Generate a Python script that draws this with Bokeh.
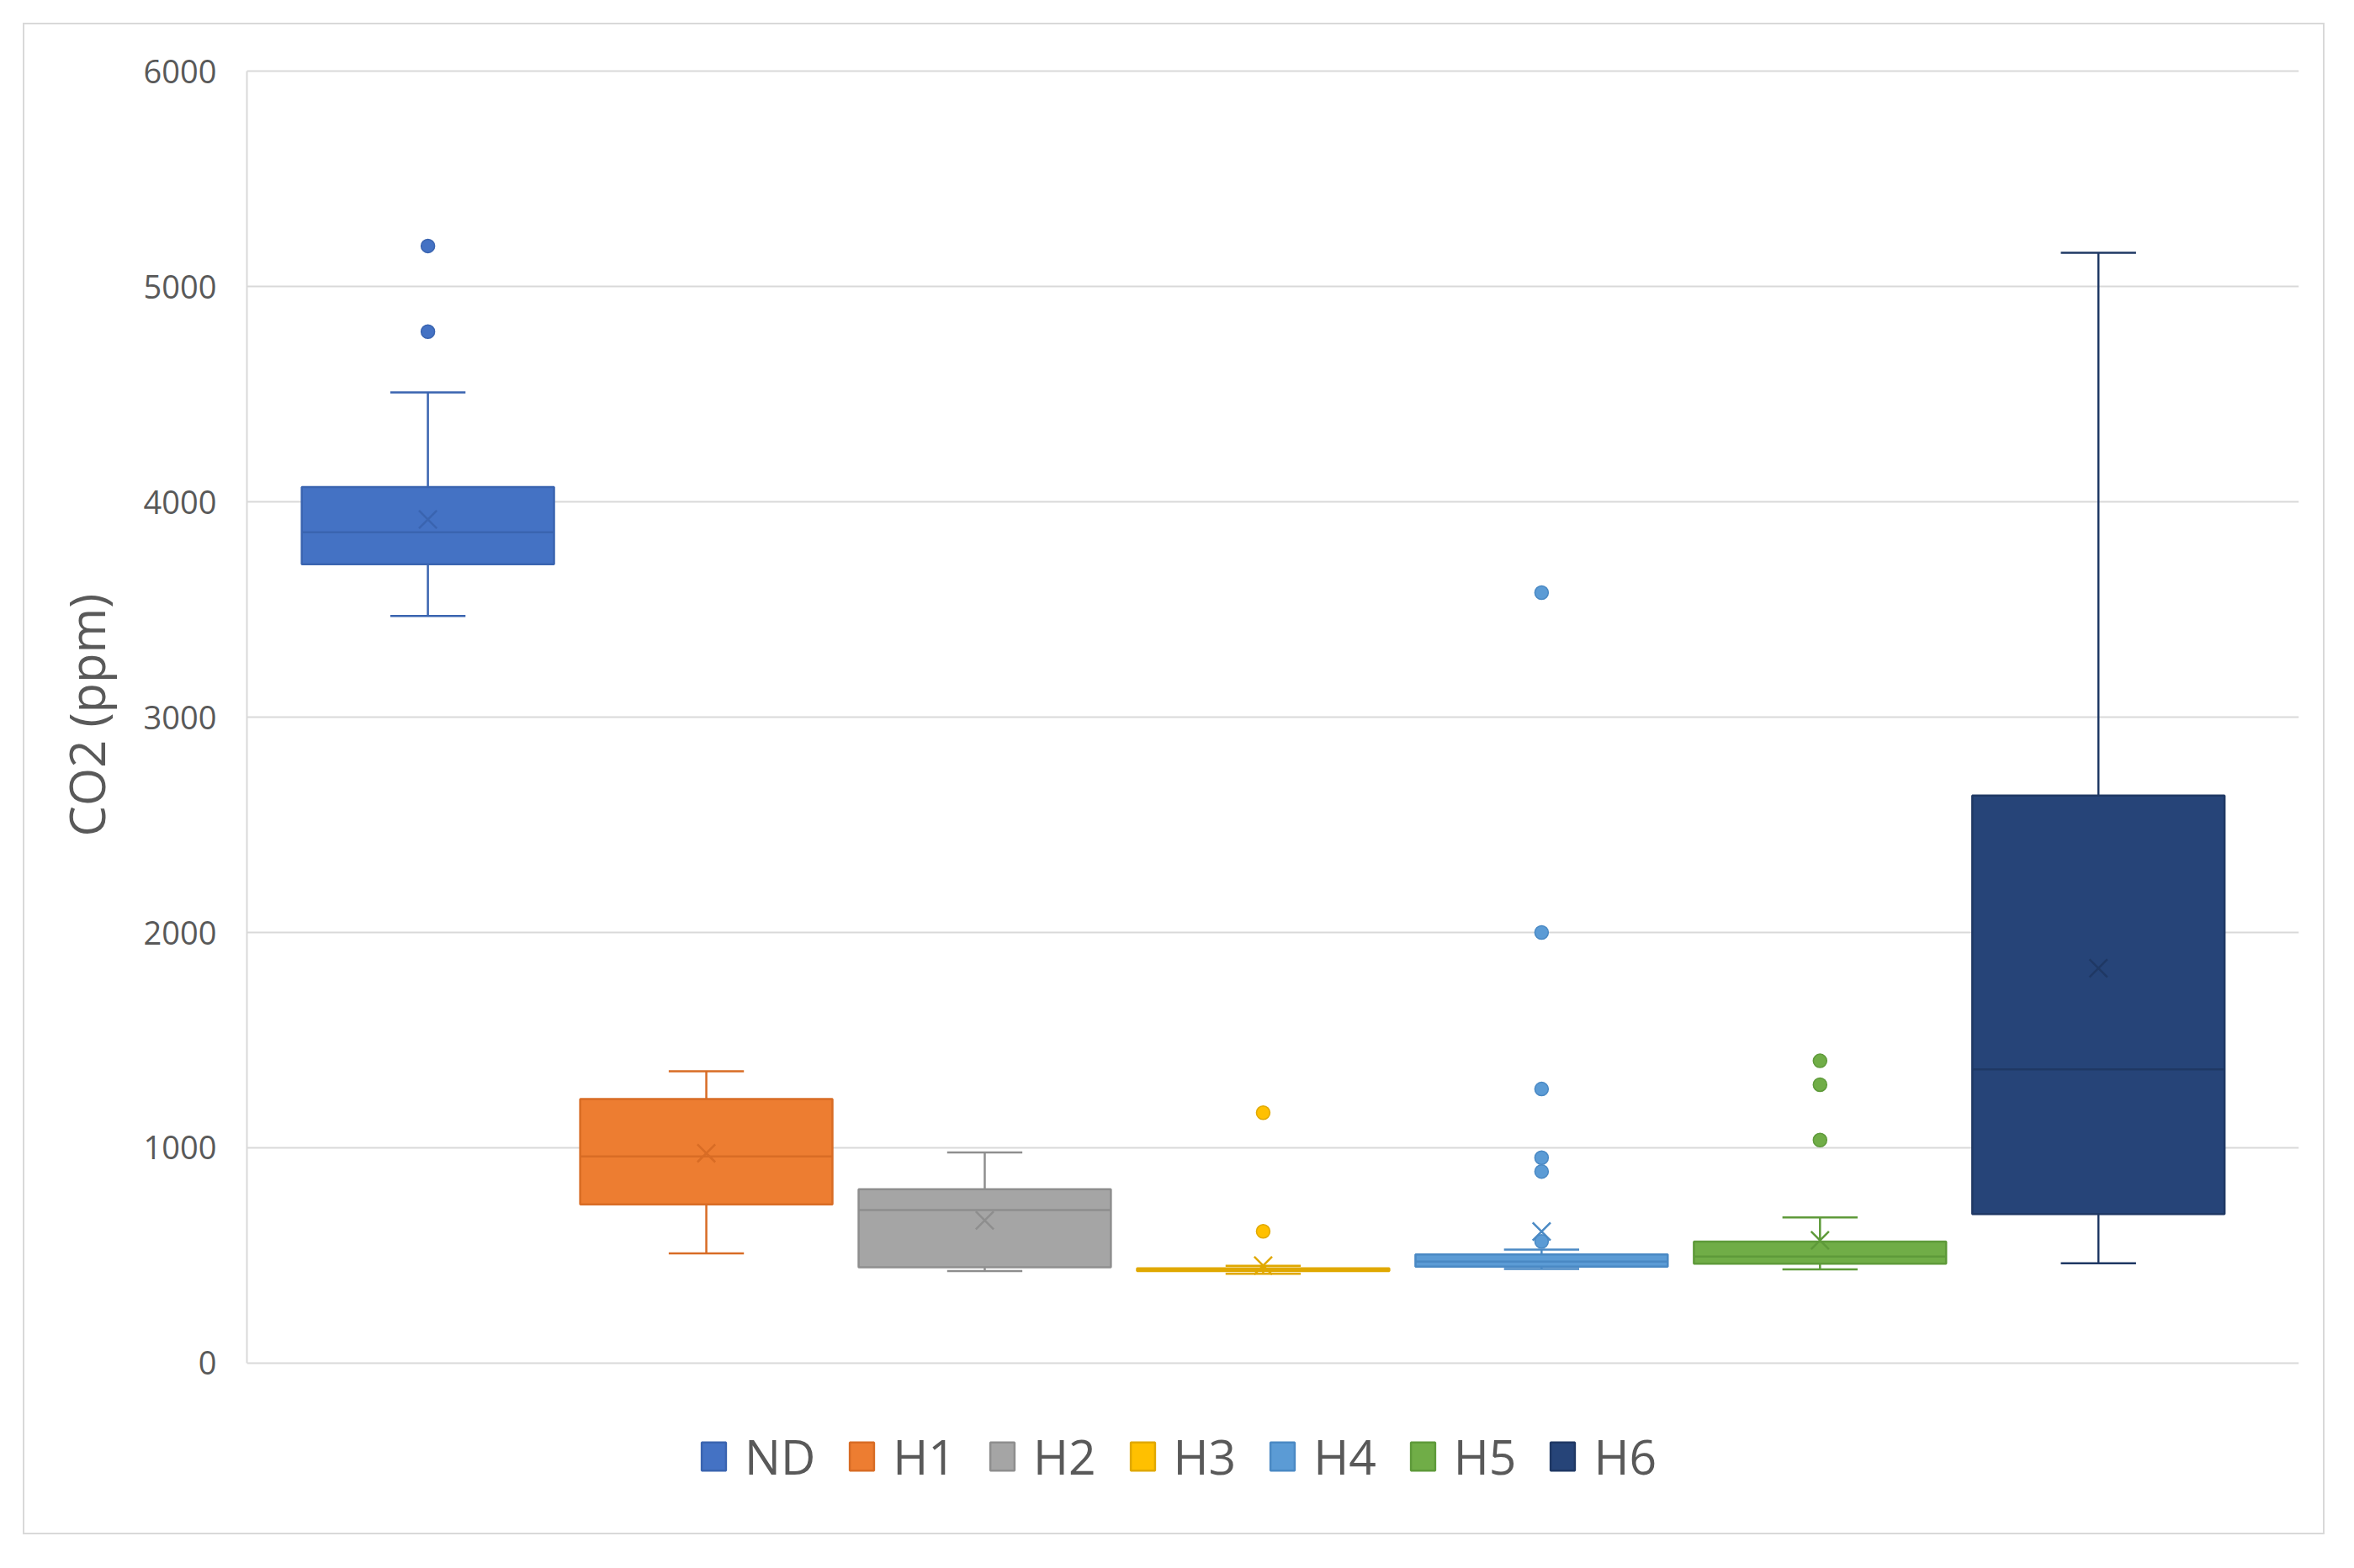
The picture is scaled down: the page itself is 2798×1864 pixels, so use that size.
from bokeh.plotting import figure
from bokeh.models import Range1d, Legend, LegendItem, ColumnDataSource, FixedTicker, Title
from bokeh.embed import file_html
from bokeh.resources import INLINE

# ---- data ----
categories = ["ND", "H1", "H2", "H3", "H4", "H5", "H6"]
lower_whisker = [3470, 510, 428, 415, 437, 435, 464]
q1 = [3710, 737, 445, 428, 448, 462, 692]
median = [3858, 960, 711, 434, 472, 495, 1364]
q3 = [4068, 1227, 808, 440, 505, 564, 2636]
upper_whisker = [4508, 1355, 978, 452, 527, 677, 5156]
mean = [3918, 975, 663, 453, 611, 570, 1834]

outlier_cat = ["ND", "ND", "H3", "H3", "H4", "H4", "H4", "H4", "H4", "H4", "H5", "H5", "H5"]
outlier_val = [5188, 4790, 1163, 612, 3578, 2000, 1273, 954, 890, 565, 1404, 1293, 1036]

fill_colors = ["#4472C4", "#ED7D31", "#A5A5A5", "#FFC000", "#5B9BD5", "#70AD47", "#264478"]
line_colors = ["#3A64B0", "#D86C25", "#8E8E8E", "#E0A800", "#4A89C4", "#5E9A3A", "#1F3864"]

y_ticks = [0, 1000, 2000, 3000, 4000, 5000, 6000]
y_title = "CO2 (ppm)"

# ---- layout constants ----
BOX_W = 0.906
CAP_W = 0.27
FONT = "Open Sans"
TXT = "#595959"
GRID = "#D9D9D9"

xpos = list(range(len(categories)))
idx = {c: i for i, c in enumerate(categories)}

src = ColumnDataSource(dict(
    x=xpos, cat=categories, lw=lower_whisker, q1=q1, med=median, q3=q3, uw=upper_whisker, mean=mean,
    fill=fill_colors, line=line_colors,
    cap_l=[i - CAP_W / 2 for i in xpos], cap_r=[i + CAP_W / 2 for i in xpos],
    box_l=[i - BOX_W / 2 for i in xpos], box_r=[i + BOX_W / 2 for i in xpos],
))
out_src = ColumnDataSource(dict(
    x=[idx[c] for c in outlier_cat], y=outlier_val,
    fill=[fill_colors[idx[c]] for c in outlier_cat],
    line=[line_colors[idx[c]] for c in outlier_cat],
))

# frame extends below zero so the legend can sit inside it (axis/grid limited to 0..6000)
p = figure(width=2736, height=1797, output_backend="svg", toolbar_location=None,
           x_range=Range1d(-0.65, 6.72), y_range=Range1d(-672, 6008),
           min_border_left=264, min_border_right=33, min_border_top=53, min_border_bottom=34)
p.margin = (27, 0, 0, 27)
p.styles = {"border": "2px solid #D9D9D9"}
p.outline_line_color = None
p.background_fill_color = "white"
p.border_fill_color = "white"

p.xaxis.visible = False
p.xgrid.grid_line_color = None

p.yaxis.ticker = FixedTicker(ticks=y_ticks)
p.yaxis.bounds = (0, 6000)
p.ygrid.ticker = FixedTicker(ticks=y_ticks)
p.ygrid.grid_line_color = GRID
p.ygrid.grid_line_width = 2
p.yaxis.axis_line_color = GRID
p.yaxis.axis_line_width = 2
p.yaxis.major_tick_line_color = None
p.yaxis.minor_tick_line_color = None
p.yaxis.major_label_text_font = FONT
p.yaxis.major_label_text_font_size = "38px"
p.yaxis.major_label_text_color = TXT
p.yaxis.major_label_standoff = 30

# y-axis title, centred on the 0..6000 part of the axis
ytitle = Title(text=y_title, align="left", offset=798, standoff=52,
               text_font=FONT, text_font_size="58px", text_font_style="normal", text_color=TXT)
p.add_layout(ytitle, "left")

# whisker stems
p.segment(x0="x", y0="lw", x1="x", y1="q1", source=src, line_color="line", line_width=2.5)
p.segment(x0="x", y0="q3", x1="x", y1="uw", source=src, line_color="line", line_width=2.5)
# caps
p.segment(x0="cap_l", y0="uw", x1="cap_r", y1="uw", source=src, line_color="line", line_width=2.5)
p.segment(x0="cap_l", y0="lw", x1="cap_r", y1="lw", source=src, line_color="line", line_width=2.5)
# boxes
boxes = p.vbar(x="x", width=BOX_W, bottom="q1", top="q3", source=src,
               fill_color="fill", line_color="line", line_width=2.5)
# median
p.segment(x0="box_l", y0="med", x1="box_r", y1="med", source=src, line_color="line", line_width=2.5)
# mean markers
p.scatter(x="x", y="mean", source=src, marker="x", size=30, line_color="line", line_width=2.5)
# outliers
p.scatter(x="x", y="y", source=out_src, marker="circle", size=16, fill_color="fill", line_color="line", line_width=1.5)

legend = Legend(items=[LegendItem(label=c, renderers=[boxes], index=i) for i, c in enumerate(categories)],
                orientation="horizontal", location=(537, 22))
legend.label_text_font = FONT
legend.label_text_font_size = "57px"
legend.label_text_color = TXT
legend.glyph_width = 36
legend.glyph_height = 42
legend.label_standoff = 19
legend.spacing = 37
legend.padding = 0
legend.margin = 0
legend.border_line_color = None
legend.background_fill_alpha = 0
p.add_layout(legend, "center")

open("out.html", "w").write(file_html(p, INLINE))
